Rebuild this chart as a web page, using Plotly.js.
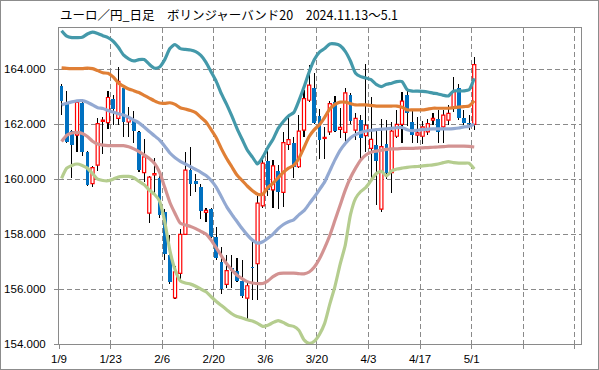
<!DOCTYPE html>
<html>
<head>
<meta charset="utf-8">
<script src="https://cdn.plot.ly/plotly-3.0.1.min.js"></script>
<style>
  html, body { margin: 0; padding: 0; background: #fff; }
  #wrap { position: relative; width: 599px; height: 370px; }
  #chart { width: 599px; height: 370px; }
  #frame { position: absolute; left: 0; top: 0; width: 599px; height: 370px; box-sizing: border-box; border: 1px solid #8c8c8c; pointer-events: none; }
</style>
</head>
<body>
<div id="wrap"><div id="chart"></div><div id="frame"></div></div>
<script>
// Tick labels every 10 trading days (1/9 ... 5/1, then two empty grid slots)
const tickLabels = ['1/9', '1/23', '2/6', '2/20', '3/6', '3/20', '4/3', '4/17', '5/1', '', ''];

// Daily OHLC, 1/9 .. 5/1 (81 trading days)
const openP = [163.38,162.72,161.75,161.60,162.76,160.97,159.84,160.51,162.10,162.06,
  162.93,162.21,163.30,162.08,162.15,161.72,160.24,158.76,160.15,160.05,
  158.80,157.24,155.68,156.57,157.99,160.33,159.94,159.70,158.79,158.91,
  157.88,156.97,156.17,156.75,156.67,156.28,155.67,156.82,156.92,159.03,
  160.67,159.61,160.29,159.52,161.26,161.33,160.45,161.78,162.87,163.33,
  162.29,161.48,161.72,162.79,161.81,161.70,163.05,161.78,162.15,161.58,
  161.12,161.24,158.91,161.27,160.24,161.56,161.99,163.05,162.08,161.60,
  161.56,161.72,162.15,162.18,161.90,162.15,162.60,163.33,162.21,162.06,
  161.99];
const highP = [163.45,163.20,161.78,162.87,162.79,161.02,160.48,162.23,162.27,163.20,
  163.08,164.08,163.36,162.63,162.47,161.75,161.45,160.10,160.76,160.20,
  158.90,157.96,156.85,158.18,160.99,161.18,160.20,159.81,158.95,158.96,
  158.27,157.54,157.24,157.24,157.12,157.07,156.28,157.79,159.37,160.75,
  161.07,160.70,160.53,161.72,162.35,161.54,162.33,163.24,164.17,163.88,
  162.57,161.90,162.84,163.03,162.60,163.33,163.12,162.41,162.35,164.20,
  163.00,161.80,162.18,162.15,162.08,162.50,163.18,163.30,162.47,162.27,
  162.10,162.20,162.40,162.50,162.50,162.70,163.72,163.45,162.50,162.33,
  164.45];
const lowP = [162.35,161.30,160.05,160.97,160.85,159.76,159.72,160.30,160.93,161.84,
  161.96,161.96,161.54,161.54,161.30,160.27,159.90,158.42,159.50,158.60,
  157.05,156.20,155.64,156.27,157.95,159.39,159.54,158.55,158.45,157.84,
  157.05,155.81,156.02,156.05,156.27,155.67,154.85,155.61,155.60,158.95,
  159.37,158.95,158.93,158.99,161.05,160.05,160.40,161.54,162.79,162.00,
  160.75,160.75,161.60,161.72,161.48,161.36,162.00,161.42,160.75,161.00,
  160.02,159.05,158.79,160.02,159.48,161.48,161.30,161.95,161.30,161.30,
  161.27,161.60,161.96,161.30,161.30,161.96,162.45,162.15,161.96,161.80,
  161.80];
const closeP = [162.85,161.36,161.26,162.79,160.99,159.78,160.42,162.02,162.15,162.97,
  162.55,163.56,162.08,162.21,161.75,160.33,160.81,160.07,160.20,158.70,
  157.26,156.24,156.63,157.99,160.33,159.84,159.81,158.85,158.86,157.90,
  157.12,155.99,156.67,156.65,156.29,155.73,156.12,156.76,159.13,160.58,
  159.61,160.48,159.54,161.33,161.44,160.45,161.75,162.93,163.42,162.05,
  161.42,161.52,162.75,161.75,161.88,163.14,162.11,162.21,161.50,161.96,
  161.45,160.65,161.18,160.24,161.75,161.99,162.84,162.39,161.60,161.68,
  161.90,162.02,162.21,161.70,162.33,162.39,163.18,162.21,162.05,162.00,
  164.17];

// Bollinger bands (20 days)
const upper2 = [165.40,165.20,165.15,165.15,165.16,165.28,165.35,165.30,165.22,165.15,
  165.02,164.80,164.52,164.38,164.30,164.35,164.35,164.18,164.04,164.08,
  164.35,164.75,164.90,164.75,164.72,164.70,164.64,164.50,164.25,163.90,
  163.55,163.10,162.72,162.30,161.85,161.45,161.06,160.80,160.55,160.80,
  161.15,161.45,161.85,162.10,162.30,162.42,162.85,163.35,163.90,164.35,
  164.62,164.75,164.92,164.92,164.86,164.65,164.30,163.85,163.73,163.68,
  163.62,163.45,163.37,163.45,163.49,163.55,163.55,163.25,163.20,163.20,
  163.19,163.17,163.13,163.10,163.05,163.03,163.21,163.21,163.21,163.25,
  163.67];
const upper1 = [164.05,164.03,164.02,164.02,164.02,164.04,164.02,163.95,163.87,163.85,
  163.72,163.50,163.38,163.28,163.22,163.15,163.05,162.95,162.85,162.77,
  162.76,162.78,162.72,162.60,162.55,162.50,162.42,162.25,162.08,161.80,
  161.50,161.10,160.75,160.45,160.15,159.95,159.75,159.58,159.45,159.45,
  159.70,159.85,160.05,160.25,160.40,160.50,160.75,161.15,161.55,161.80,
  161.98,162.25,162.55,162.72,162.80,162.80,162.75,162.70,162.70,162.70,
  162.68,162.66,162.66,162.66,162.66,162.66,162.62,162.52,162.52,162.52,
  162.52,162.55,162.58,162.58,162.58,162.58,162.60,162.62,162.64,162.66,
  162.85];
const middle = [162.70,162.76,162.81,162.85,162.86,162.80,162.70,162.60,162.57,162.50,
  162.44,162.38,162.33,162.25,162.15,162.05,161.90,161.73,161.58,161.42,
  161.20,160.95,160.78,160.65,160.55,160.45,160.35,160.25,160.13,159.95,
  159.70,159.35,159.00,158.72,158.46,158.20,157.97,157.78,157.67,157.72,
  157.85,158.00,158.20,158.35,158.45,158.52,158.70,158.85,159.10,159.35,
  159.62,159.90,160.30,160.70,161.05,161.30,161.50,161.62,161.70,161.75,
  161.78,161.80,161.82,161.83,161.85,161.87,161.88,161.80,161.76,161.78,
  161.80,161.82,161.83,161.83,161.83,161.83,161.84,161.86,161.90,161.92,
  162.00];
const lower1 = [161.37,161.60,161.68,161.70,161.66,161.55,161.38,161.28,161.24,161.22,
  161.22,161.22,161.22,161.18,161.10,161.00,160.88,160.75,160.58,160.25,
  159.70,159.15,158.75,158.40,158.33,158.28,158.20,158.10,158.00,157.78,
  157.50,157.20,156.92,156.70,156.50,156.38,156.27,156.22,156.20,156.20,
  156.30,156.45,156.56,156.58,156.58,156.58,156.56,156.55,156.62,156.80,
  157.10,157.50,157.95,158.50,159.05,159.60,160.05,160.40,160.70,160.88,
  160.98,161.02,161.05,161.08,161.10,161.10,161.12,161.12,161.12,161.13,
  161.14,161.15,161.16,161.17,161.18,161.20,161.20,161.20,161.20,161.19,
  161.17];
const lower2 = [160.03,160.40,160.50,160.55,160.50,160.40,160.20,160.00,159.95,159.94,
  160.00,160.08,160.10,160.10,160.05,159.92,159.80,159.60,159.45,159.20,
  158.45,157.40,156.70,156.30,156.22,156.18,156.10,156.00,155.90,155.72,
  155.55,155.40,155.25,155.10,155.00,154.95,154.88,154.84,154.75,154.64,
  154.68,154.78,154.85,154.78,154.68,154.64,154.50,154.15,154.02,154.10,
  154.35,154.75,155.45,156.10,156.90,157.60,158.70,159.30,159.55,159.70,
  159.95,160.20,160.28,160.12,160.30,160.37,160.40,160.43,160.45,160.46,
  160.48,160.50,160.52,160.55,160.60,160.64,160.60,160.58,160.58,160.58,
  160.37];

const idx = openP.map((_, i) => i);
const upI = idx.filter(i => closeP[i] >= openP[i]);
const dnI = idx.filter(i => closeP[i] < openP[i]);
const MINH = 0.04;

const traces = [];
// wicks
traces.push({
  type: 'bar', x: idx, base: lowP, y: idx.map(i => highP[i] - lowP[i]),
  width: 0.22, marker: {color: '#000000', line: {width: 0}}, hoverinfo: 'skip', showlegend: false
});
// up bodies (hollow red)
traces.push({
  type: 'bar', x: upI, base: upI.map(i => openP[i]),
  y: upI.map(i => Math.max(closeP[i] - openP[i], MINH)),
  width: 0.6, marker: {color: '#ffffff', line: {color: '#ff0000', width: 1.2}}, hoverinfo: 'skip', showlegend: false
});
// down bodies (filled blue)
traces.push({
  type: 'bar', x: dnI, base: dnI.map(i => closeP[i]),
  y: dnI.map(i => Math.max(openP[i] - closeP[i], MINH)),
  width: 0.72, marker: {color: '#0070c0', line: {width: 0}}, hoverinfo: 'skip', showlegend: false
});

const bands = [
  {y: lower2, c: '#b5cd8f'},
  {y: lower1, c: '#d39392'},
  {y: middle, c: '#93a9d2'},
  {y: upper1, c: '#e07f35'},
  {y: upper2, c: '#4499aa'}
];
bands.forEach(b => traces.push({
  type: 'scatter', mode: 'lines', x: idx, y: b.y,
  line: {color: b.c, width: 3.2, shape: 'spline', smoothing: 0.6},
  hoverinfo: 'skip', showlegend: false
}));

const tickVals = tickLabels.map((_, k) => k * 10 - 0.5);

const layout = {
  width: 599, height: 370,
  margin: {l: 59, r: 18, t: 28, b: 26, pad: 0},
  paper_bgcolor: '#ffffff', plot_bgcolor: '#ffffff',
  barmode: 'overlay', bargap: 0,
  showlegend: false,
  title: {
    text: 'ユーロ／円_日足　ボリンジャーバンド20　2024.11.13～5.1',
    font: {family: 'Noto Sans CJK JP, sans-serif', size: 12.5, color: '#000000'},
    x: 60 / 599, xref: 'container', xanchor: 'left',
    y: 1 - 16 / 370, yref: 'container', yanchor: 'middle'
  },
  xaxis: {
    range: [-0.5, 100.7], tickmode: 'array', tickvals: tickVals, ticktext: tickLabels,
    showgrid: true, gridcolor: '#8a8a8a', gridwidth: 1, griddash: '5px,3px',
    showline: true, linecolor: '#8a8a8a', linewidth: 1, mirror: true,
    ticks: 'outside', ticklen: 4, tickcolor: '#8a8a8a',
    zeroline: false, fixedrange: true,
    tickfont: {family: 'Liberation Sans, Arial, sans-serif', size: 11.5, color: '#000000'}
  },
  yaxis: {
    range: [154, 165.5], tickmode: 'linear', tick0: 154, dtick: 2, tickformat: '.3f',
    showgrid: true, gridcolor: '#8a8a8a', gridwidth: 1, griddash: '5px,3px',
    showline: true, linecolor: '#8a8a8a', linewidth: 1, mirror: true,
    ticks: 'outside', ticklen: 4, tickcolor: '#8a8a8a',
    zeroline: false, fixedrange: true, ticklabelstandoff: 6,
    tickfont: {family: 'Liberation Sans, Arial, sans-serif', size: 11.5, color: '#000000'}
  }
};

Plotly.newPlot('chart', traces, layout, {staticPlot: true, displayModeBar: false});
</script>
</body>
</html>
